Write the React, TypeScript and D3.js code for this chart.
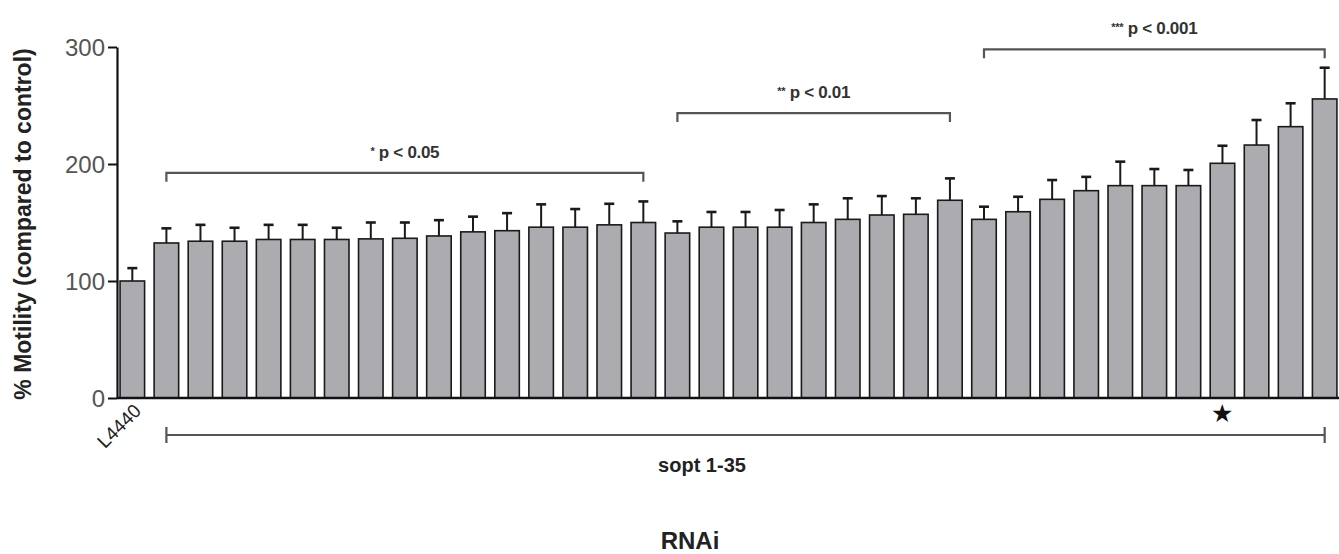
import React, { useEffect, useRef } from "react";
import { scaleBand, scaleLinear, axisLeft, select } from "d3";

const categories = [
  "L4440",
  "sopt1", "sopt2", "sopt3", "sopt4", "sopt5", "sopt6", "sopt7",
  "sopt8", "sopt9", "sopt10", "sopt11", "sopt12", "sopt13", "sopt14",
  "sopt15", "sopt16", "sopt17", "sopt18", "sopt19", "sopt20", "sopt21",
  "sopt22", "sopt23", "sopt24", "sopt25", "sopt26", "sopt27", "sopt28",
  "sopt29", "sopt30", "sopt31", "sopt32", "sopt33", "sopt34", "sopt35",
];

const motility = [
  100, 132.5, 134, 134, 135.5, 135.5, 135.5, 136, 136.5, 138.5, 142, 143,
  146, 146, 148, 150, 141, 146, 146, 146, 150, 152.7, 156.4, 157, 169,
  152.7, 159.2, 169.8, 177.2, 181.5, 181.5, 181.5, 200.6, 216.2, 231.9, 255.6,
];

const sem = [
  11, 12.5, 14, 11.5, 12.5, 12.5, 10, 14, 13.5, 13.5, 13, 15, 19.5, 15.5,
  18, 18, 10, 13, 13, 14.7, 15.5, 18, 16.2, 13.7, 18.7, 10.8, 12.8, 16.5,
  11.8, 20.5, 14.2, 13.4, 15, 21.4, 20, 26.7,
];

const yTicks = [0, 100, 200, 300];

// significance groups: first bar, last bar, stars, text, bracket level (in % units)
const groupStars = ["*", "**", "***"];
const groupText = ["p < 0.05", "p < 0.01", "p < 0.001"];
const groupFrom = ["sopt1", "sopt16", "sopt25"];
const groupTo = ["sopt15", "sopt24", "sopt35"];
const groupLevel = [192.5, 243.5, 298];

const starred = ["sopt32"];

const W = 1339;
const H = 554;
const FONT = "'Liberation Sans', Arial, Helvetica, sans-serif";

const YAxis = ({ scale }) => {
  const node = useRef(null);

  useEffect(() => {
    if (!node.current) return;
    const g = select(node.current);
    g.call(axisLeft(scale).tickValues(yTicks).tickSize(9).tickSizeOuter(0).tickPadding(3));
    g.select(".domain").attr("stroke", "#111").attr("stroke-width", 2.2);
    g.selectAll(".tick line").attr("stroke", "#111").attr("stroke-width", 2);
    g.selectAll(".tick text")
      .attr("fill", "#555")
      .attr("dy", "0.36em")
      .style("font-size", "24px")
      .style("font-family", FONT);
  }, [scale]);

  return <g ref={node} transform="translate(117,0)" />;
};

export default function App() {
  const x = scaleBand()
    .domain(categories)
    .range([117, 1340])
    .paddingInner(0.28)
    .paddingOuter(0.09);

  const y = scaleLinear().domain([0, 300]).range([398, 47]);

  const bw = x.bandwidth();
  const cx = (c) => x(c) + bw / 2;

  const soptFrom = cx("sopt1");
  const soptTo = cx("sopt35");

  return (
    <svg
      width={W}
      height={H}
      style={{ position: "absolute", left: 0, top: 0, background: "#fff" }}
      fontFamily={FONT}
    >
      {/* bars */}
      <g>
        {categories.map((c, i) => (
          <rect
            key={c}
            x={x(c)}
            y={y(motility[i])}
            width={bw}
            height={y(0) - y(motility[i])}
            fill="#acacb0"
            stroke="#1a1a1a"
            strokeWidth={1.6}
          />
        ))}
      </g>

      {/* error bars (upper only) */}
      <g stroke="#1a1a1a" strokeWidth={2}>
        {categories.map((c, i) => (
          <g key={c}>
            <line x1={cx(c)} x2={cx(c)} y1={y(motility[i])} y2={y(motility[i] + sem[i])} />
            <line
              x1={cx(c) - 5}
              x2={cx(c) + 5}
              y1={y(motility[i] + sem[i])}
              y2={y(motility[i] + sem[i])}
              strokeWidth={2.6}
            />
          </g>
        ))}
      </g>

      {/* x axis line */}
      <line x1={117} x2={W} y1={y(0)} y2={y(0)} stroke="#111" strokeWidth={2.4} />

      <YAxis scale={y} />

      {/* significance brackets */}
      {groupText.map((t, i) => {
        const x1 = cx(groupFrom[i]);
        const x2 = cx(groupTo[i]);
        const yy = y(groupLevel[i]);
        return (
          <g key={t}>
            <path
              d={`M${x1},${yy + 9}V${yy}H${x2}V${yy + 9}`}
              fill="none"
              stroke="#555"
              strokeWidth={2.2}
            />
            <text
              x={(x1 + x2) / 2}
              y={yy - 15}
              textAnchor="middle"
              fontSize={17}
              fontWeight="bold"
              fill="#333"
              letterSpacing={-0.3}
            >
              <tspan fontSize={11} dy={-3}>{groupStars[i]}</tspan>
              <tspan dy={3}>{" " + t}</tspan>
            </text>
          </g>
        );
      })}

      {/* stars under bars */}
      {starred.map((c) => (
        <text key={c} x={cx(c)} y={y(0) + 24} textAnchor="middle" fontSize={25} fill="#111">
          ★
        </text>
      ))}

      {/* sopt range bracket */}
      <g stroke="#555" strokeWidth={2.2}>
        <line x1={soptFrom} x2={soptTo} y1={435} y2={435} />
        <line x1={soptFrom} x2={soptFrom} y1={427} y2={443} />
        <line x1={soptTo} x2={soptTo} y1={427} y2={443} />
      </g>
      <text x={702} y={472} textAnchor="middle" fontSize={20} fontWeight="bold" fill="#222">
        sopt 1-35
      </text>

      {/* L4440 label */}
      <text
        transform={`translate(${cx("L4440") + 10},${y(0) + 14}) rotate(-45)`}
        textAnchor="end"
        fontSize={19}
        fill="#222"
      >
        L4440
      </text>

      {/* axis titles */}
      <text
        transform={`translate(31,224) rotate(-90)`}
        textAnchor="middle"
        fontSize={23}
        fontWeight="bold"
        fill="#222"
      >
        % Motility (compared to control)
      </text>
      <text x={690} y={549} textAnchor="middle" fontSize={24} fontWeight="bold" fill="#222">
        RNAi
      </text>
    </svg>
  );
}
